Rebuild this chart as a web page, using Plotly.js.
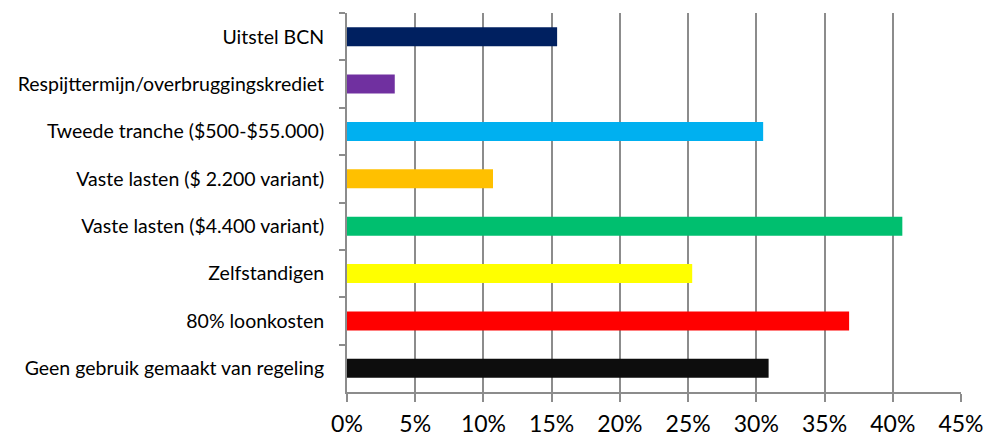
<!DOCTYPE html>
<html>
<head>
<meta charset="utf-8">
<script src="https://cdn.plot.ly/plotly-3.0.1.min.js"></script>
<style>html,body{margin:0;padding:0;background:#fff;}#chart{width:987px;height:438px;}</style>
</head>
<body>
<div id="chart"></div>
<script>
const categories = [
  "Uitstel BCN",
  "Respijttermijn/overbruggingskrediet",
  "Tweede tranche ($500-$55.000)",
  "Vaste lasten ($ 2.200 variant)",
  "Vaste lasten ($4.400 variant)",
  "Zelfstandigen",
  "80% loonkosten",
  "Geen gebruik gemaakt van regeling"
];
const values = [0.154, 0.035, 0.305, 0.107, 0.407, 0.253, 0.368, 0.309];
const colors = ["#002060", "#7030A0", "#00B0F0", "#FFC000", "#00BF6F", "#FFFF00", "#FF0000", "#0D0D0D"];
const xTicks = [0, 0.05, 0.10, 0.15, 0.20, 0.25, 0.30, 0.35, 0.40, 0.45];

const trace = {
  type: "bar",
  orientation: "h",
  y: categories,
  x: values,
  width: 0.4,
  marker: { color: colors, line: { width: 0 } },
  hoverinfo: "x+y"
};

const layout = {
  width: 987,
  height: 438,
  margin: { l: 347, r: 26, t: 13, b: 46, pad: 0 },
  paper_bgcolor: "#ffffff",
  plot_bgcolor: "#ffffff",
  showlegend: false,
  font: { family: "Lato, 'Open Sans', sans-serif", color: "#000000" },
  xaxis: {
    range: [0, 0.45],
    tickvals: xTicks,
    tickformat: ".0%",
    showgrid: true,
    gridcolor: "#8C8C8C",
    gridwidth: 2,
    zeroline: false,
    showline: true,
    linecolor: "#8C8C8C",
    linewidth: 2,
    ticks: "outside",
    ticklen: 8,
    tickwidth: 2,
    tickcolor: "#8C8C8C",
    ticklabelstandoff: 2,
    tickfont: { size: 23, family: "Lato, 'Open Sans', sans-serif", color: "#000" },
    fixedrange: true
  },
  yaxis: {
    type: "category",
    autorange: "reversed",
    showgrid: false,
    zeroline: false,
    showline: true,
    linecolor: "#8C8C8C",
    linewidth: 2,
    ticks: "outside",
    tickson: "boundaries",
    ticklen: 6,
    tickwidth: 2,
    tickcolor: "#8C8C8C",
    ticklabelstandoff: 17,
    tickfont: { size: 19.5, family: "Lato, 'Open Sans', sans-serif", color: "#000" },
    fixedrange: true
  }
};

Plotly.newPlot("chart", [trace], layout, { displayModeBar: false, staticPlot: true });
</script>
</body>
</html>
